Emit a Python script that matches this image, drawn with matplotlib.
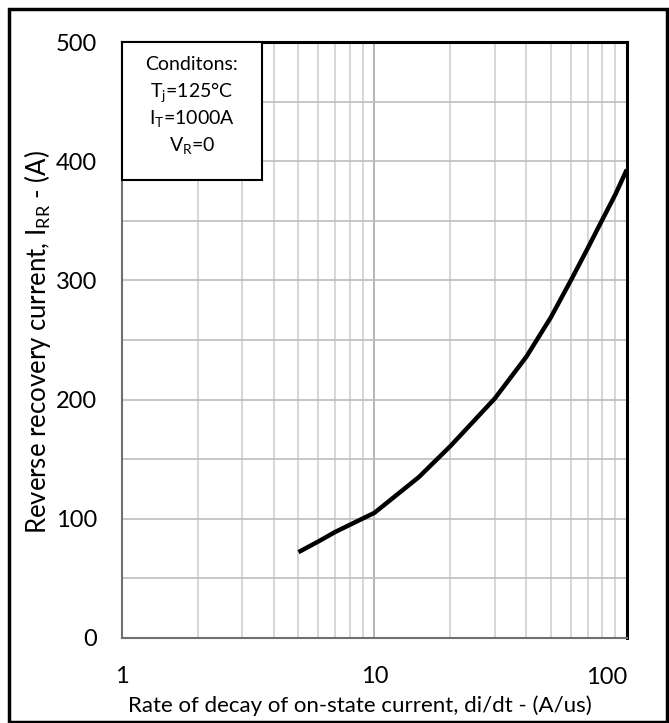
import matplotlib

matplotlib.use("Agg")
import matplotlib.pyplot as plt
from matplotlib.patches import Rectangle
from matplotlib.ticker import FixedLocator, NullFormatter

plt.rcParams["font.family"] = ["Lato", "DejaVu Sans"]
plt.rcParams["mathtext.fontset"] = "custom"
plt.rcParams["mathtext.rm"] = "Lato"
plt.rcParams["mathtext.it"] = "Lato"

# di/dt (A/us) vs reverse recovery current (A)
didt = [5, 6, 7, 8, 10, 15, 20, 30, 40, 50, 60, 70, 80, 90, 100]
irr = [72, 81, 89, 95, 105, 135, 161, 201, 236, 269, 300, 327, 351, 372, 393]

x_ticks = [1, 10, 100]
x_labels = ["1", "10", "100"]
x_minor = [2, 3, 4, 5, 6, 7, 8, 9, 20, 30, 40, 50, 60, 70, 80, 90]
y_ticks = [0, 100, 200, 300, 400, 500]
y_minor = [50, 150, 250, 350, 450]

fig = plt.figure(figsize=(6.69, 7.23), dpi=100)
ax = fig.add_axes([0.1824, 0.1176, 0.7546, 0.8243])

ax.plot(didt, irr, color="black", lw=3.2, solid_capstyle="butt",
        solid_joinstyle="round", zorder=3)

ax.set_xscale("log")
ax.set_xlim(1, 100)
ax.set_ylim(0, 500)
ax.xaxis.set_major_locator(FixedLocator(x_ticks))
ax.xaxis.set_minor_locator(FixedLocator(x_minor))
ax.xaxis.set_minor_formatter(NullFormatter())
# last label drawn separately: Excel keeps it inside the plot
ax.set_xticklabels(x_labels[:-1] + [""])
ax.text(x_ticks[-1], -0.049, x_labels[-1], transform=ax.get_xaxis_transform(),
        ha="right", va="top", fontsize=17)
ax.yaxis.set_major_locator(FixedLocator(y_ticks))
ax.yaxis.set_minor_locator(FixedLocator(y_minor))

ax.grid(True, which="major", axis="x", color="#a8a8a8", lw=1.2)
ax.grid(True, which="minor", axis="x", color="#d0d0d0", lw=1.2)
ax.grid(True, which="both", axis="y", color="#bcbcbc", lw=1.2)
ax.set_axisbelow(True)

ax.tick_params(which="both", length=0, labelsize=17, colors="black")
ax.tick_params(axis="x", pad=20)
ax.tick_params(axis="y", pad=18)

for side in ("top", "right"):
    ax.spines[side].set_linewidth(2.2)
    ax.spines[side].set_color("black")
for side in ("left", "bottom"):
    ax.spines[side].set_linewidth(1.5)
    ax.spines[side].set_color("#707070")

fig.text(0.538, 0.0152, "Rate of decay of on-state current, di/dt - (A/us)",
         fontsize=16, ha="center", va="baseline")
fig.text(0.056, 0.527, r"Reverse recovery current, I$_{\mathrm{RR}}$ - (A)",
         fontsize=18.5, ha="center", va="center", rotation=90)

# conditions box
box = Rectangle((0, 0.768), 0.277, 0.232, transform=ax.transAxes,
                facecolor="white", edgecolor="black", lw=1.5, zorder=5, clip_on=False)
ax.add_patch(box)
cond = ["Conditons:", r"T$_{\mathrm{j}}$=125°C", r"I$_{\mathrm{T}}$=1000A", r"V$_{\mathrm{R}}$=0"]
for i, line in enumerate(cond):
    ax.text(0.1385, 0.962 - i * 0.0453, line, transform=ax.transAxes,
            ha="center", va="center", fontsize=14, zorder=6)

# outer frame
fig.add_artist(Rectangle((0.0135, 0.002), 0.983, 0.986, transform=fig.transFigure,
                         fill=False, edgecolor="black", lw=2.5))

fig.savefig("out.png", dpi=100)
